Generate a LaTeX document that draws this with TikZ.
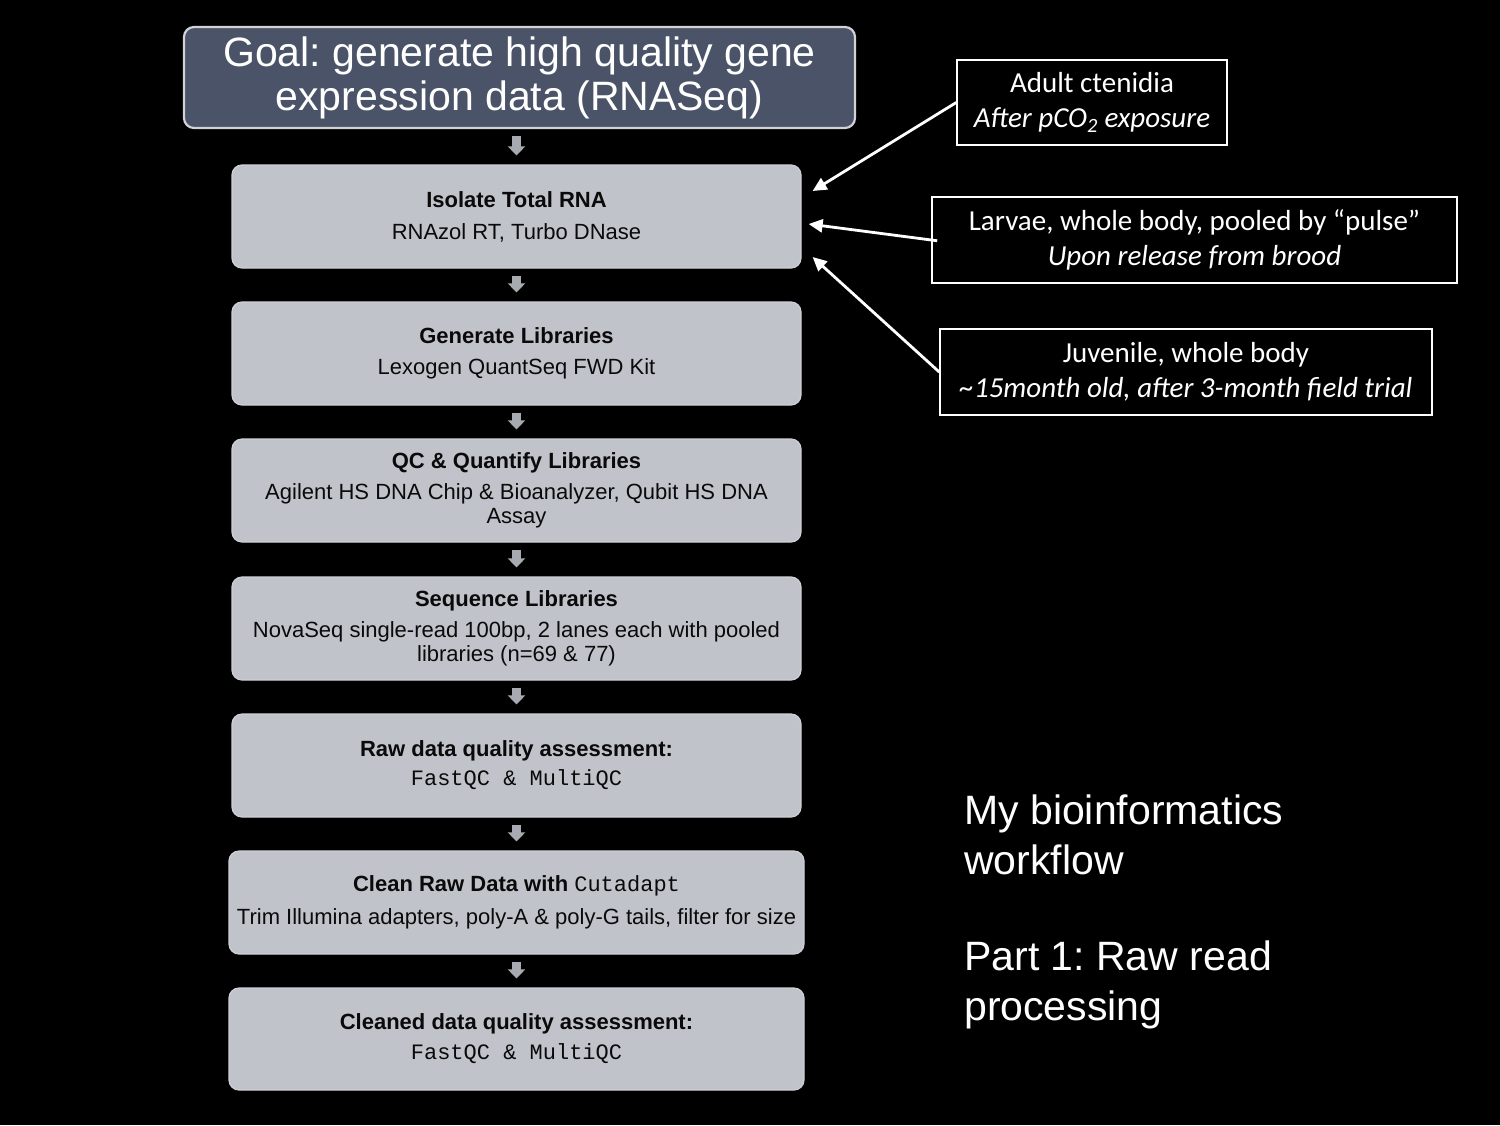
\documentclass[tikz,border=0pt]{standalone}
\usepackage{fontspec}
\setmainfont{Liberation Sans}
\setmonofont{Liberation Mono}
\newfontfamily\calib{Carlito}
\usetikzlibrary{arrows.meta,calc}
\definecolor{boxfill}{HTML}{C0C3CA}
\definecolor{boxline}{HTML}{CDD0D5}
\definecolor{titlefill}{HTML}{4A5367}
\definecolor{titleline}{HTML}{D0D2D6}
\definecolor{arrgray}{HTML}{A7AAB0}
\definecolor{ink}{HTML}{0A0A0A}
\frenchspacing
\tikzset{
  stepbox/.style={draw=boxline, line width=1.2bp, fill=boxfill, rounded corners=10bp,
    minimum width=569bp, minimum height=103bp, inner sep=0pt, align=center,
    text=ink, font=\fontsize{22bp}{24bp}\selectfont},
  titlebox/.style={draw=titleline, line width=2.2bp, fill=titlefill, rounded corners=10bp,
    minimum width=671bp, minimum height=101bp, inner sep=0pt, align=center,
    text=white, font=\fontsize{41bp}{44bp}\selectfont},
  samplebox/.style={draw=white, line width=1.5bp, fill=black, minimum height=86bp,
    inner sep=0pt, align=center, text=white, font=\calib\fontsize{29bp}{35bp}\selectfont},
  blockarr/.style={draw=arrgray, line width=9bp, shorten <=7bp, shorten >=9bp,
    -{Triangle[width=17bp,length=9bp]}},
  wharr/.style={draw=white, line width=2.8bp, -{Triangle[width=13bp,length=14bp]}},
  bigtext/.style={text=white, align=left, inner sep=0pt, anchor=west,
    font=\fontsize{41bp}{50bp}\selectfont}
}
\begin{document}
\begin{tikzpicture}[x=1bp,y=-1bp]
\fill[black] (0,0) rectangle (1500,1125);
\useasboundingbox (0,0) rectangle (1500,1125);

\node[titlebox] (t) at (519.5,77.5) {Goal: generate high quality gene\\expression data (RNASeq)};

\node[stepbox] (s1) at (516.5,216.5) {\textbf{Isolate Total RNA}\\[8bp]RNAzol RT, Turbo DNase};
\node[stepbox] (s2) at (516.5,353.5) {\textbf{Generate Libraries}\\[7bp]Lexogen QuantSeq FWD Kit};
\node[stepbox] (s3) at (516.5,490.5) {\textbf{QC \& Quantify Libraries}\\[7bp]Agilent HS DNA Chip \& Bioanalyzer, Qubit HS DNA\\Assay};
\node[stepbox] (s4) at (516.5,628.5) {\textbf{Sequence Libraries}\\[7bp]NovaSeq single-read 100bp, 2 lanes each with pooled\\libraries (n=69 \& 77)};
\node[stepbox] (s5) at (516.5,765.5) {\textbf{Raw data quality assessment:}\\[5bp]\texttt{FastQC \& MultiQC}};
\node[stepbox, minimum width=575bp] (s6) at (516.5,902.5) {{\bfseries Clean Raw Data with} \texttt{Cutadapt}\\[9bp]Trim Illumina adapters, poly-A \& poly-G tails, filter for size};
\node[stepbox, minimum width=575bp, minimum height=102bp] (s7) at (516.5,1039) {\textbf{Cleaned data quality assessment:}\\[6bp]\texttt{FastQC \& MultiQC}};

\draw[blockarr] (t.south -| s1.north) -- (s1.north);
\draw[blockarr] (s1.south) -- (s2.north);
\draw[blockarr] (s2.south) -- (s3.north);
\draw[blockarr] (s3.south) -- (s4.north);
\draw[blockarr] (s4.south) -- (s5.north);
\draw[blockarr] (s5.south) -- (s6.north);
\draw[blockarr] (s6.south) -- (s7.north);

\node[samplebox, minimum width=270bp, minimum height=85bp] (a) at (1092,102.5) {Adult ctenidia\\\itshape After pCO\textsubscript{2} exposure};
\node[samplebox, minimum width=525bp] (b) at (1194.5,240) {Larvae, whole body, pooled by “pulse”\\\itshape Upon release from brood};
\node[samplebox, minimum width=492bp] (c) at (1186,372) {Juvenile, whole body\\\itshape \textasciitilde 15month old, after 3-month field trial};

\coordinate (ea) at ($(s1.east)+(11,-25.5)$);
\coordinate (eb) at ($(s1.east)+(7,7.5)$);
\coordinate (ec) at ($(s1.east)+(11,40.5)$);
\draw[wharr] (a.west) -- (ea);
\draw[wharr, shorten <=-6bp] (b.west) -- (eb);
\draw[wharr] (c.west) -- (ec);

\node[bigtext] (p1) at (964,835) {My bioinformatics\\workflow};
\node[bigtext] (p2) at (964,985) {Part 1: Raw read\\processing};
\end{tikzpicture}
\end{document}
